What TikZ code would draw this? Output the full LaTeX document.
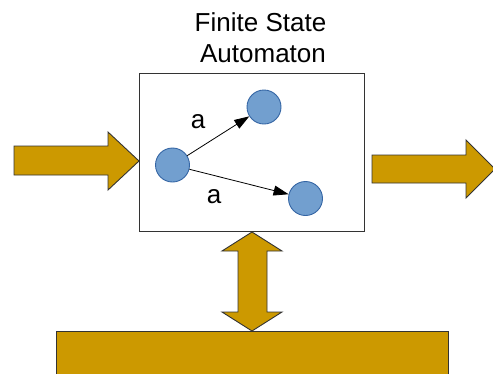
\documentclass[tikz,border=0pt]{standalone}
\usepackage{fontspec}
\setmainfont{Liberation Sans}
\usetikzlibrary{arrows.meta}
\definecolor{gold}{HTML}{CC9900}
\definecolor{statefill}{HTML}{729FCF}
\definecolor{stateline}{HTML}{3465A4}
\tikzset{
  goldshape/.style={fill=gold, draw=black!80, line width=0.9pt, line join=miter},
  state/.style={circle, fill=statefill, draw=stateline, line width=0.9pt, minimum size=34pt, inner sep=0pt},
  trans/.style={line width=0.8pt, -{Triangle[length=15pt,width=10pt]}},
  lbl/.style={inner sep=0pt, font=\fontsize{26}{30}\selectfont},
  titletext/.style={inner sep=0pt, anchor=base, font=\fontsize{26}{31}\selectfont}
}
\begin{document}
\begin{tikzpicture}[x=1pt,y=-1pt]
  \useasboundingbox (0,0) rectangle (493,373);
  \clip (0,0) rectangle (493,373);

  % title
  \node[titletext] (title1) at (260.5,31) {Finite State};
  \node[titletext] (title2) at (263,62.7) {Automaton};

  % automaton frame
  \node[draw=black!80, line width=0.9pt, minimum width=225pt, minimum height=158pt, inner sep=0pt] (fsa) at (251.5,152) {};

  % input arrow
  \draw[goldshape] (14,146) -- (108,146) -- (108,132) -- (139,161) -- (108,190) -- (108,175) -- (14,175) -- cycle;
  % output arrow
  \draw[goldshape] (372,155) -- (466,155) -- (466,140) -- (495,169) -- (466,198) -- (466,183) -- (372,183) -- cycle;
  % two-way arrow to the tape
  \draw[goldshape] (252,232) -- (282,251) -- (267,251) -- (267,312) -- (282,312) -- (252,331)
     -- (222,312) -- (238,312) -- (238,251) -- (222,251) -- cycle;
  % tape
  \draw[goldshape] (56,331) rectangle (448,385);

  % states
  \node[state] (s0) at (172.5,165) {};
  \node[state] (s1) at (264,107) {};
  \node[state] (s2) at (305.5,198.5) {};

  \draw[trans] (s0) -- (s1);
  \draw[trans] (s0) -- (s2);

  \node[lbl] (la) at (198,122) {a};
  \node[lbl] (lb) at (214,197) {a};
\end{tikzpicture}
\end{document}
